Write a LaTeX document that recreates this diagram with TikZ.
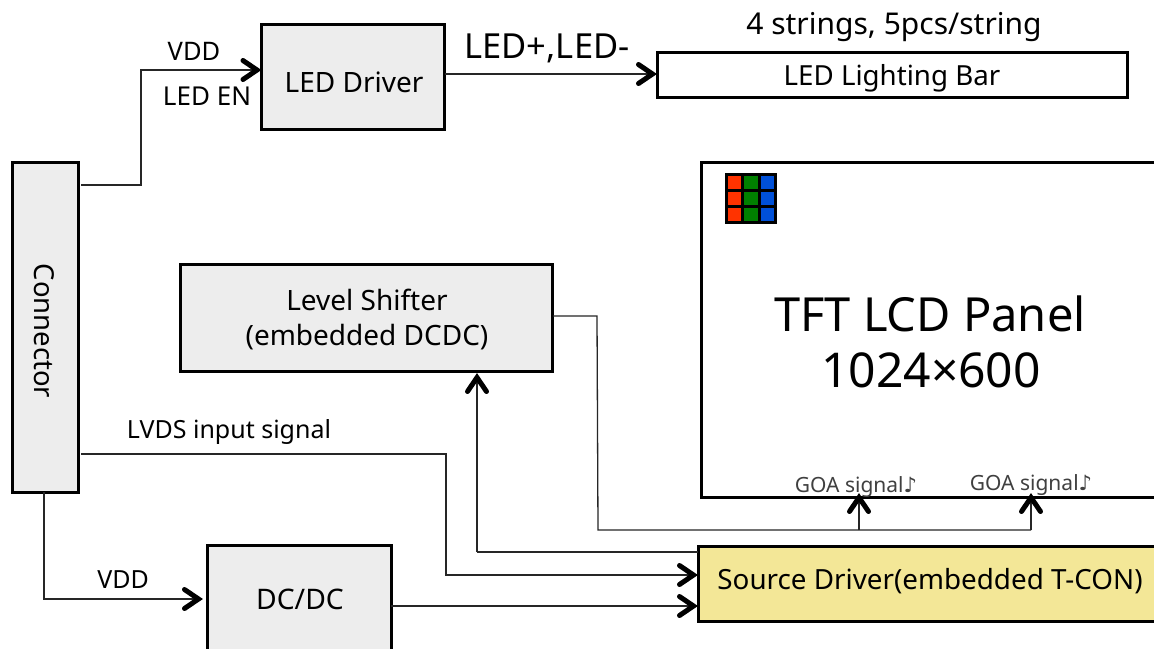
\documentclass[tikz,border=0pt]{standalone}
\usepackage{fontspec}
\setmainfont{Noto Sans}
\newfontfamily\symfont{DejaVu Sans}
\usetikzlibrary{arrows.meta}
\definecolor{boxgrey}{HTML}{EDEDED}
\definecolor{srcyellow}{HTML}{F3E797}
\definecolor{cellred}{HTML}{FF3300}
\definecolor{cellgreen}{HTML}{008000}
\definecolor{cellblue}{HTML}{0050D8}
\pgfdeclarearrow{
  name=FatBarb,
  setup code={
    \pgfarrowssettipend{0pt}
    \pgfarrowssetlineend{-5pt}
    \pgfarrowssetvisualbackend{-18.5pt}
    \pgfarrowssetbackend{-18.5pt}
  },
  drawing code={
    \pgfsetlinewidth{5pt}
    \pgfsetdash{}{0pt}
    \pgfsetroundcap
    \pgfsetmiterjoin
    \pgfpathmoveto{\pgfqpoint{-18.5pt}{9.5pt}}
    \pgfpathlineto{\pgfqpoint{-4.5pt}{0pt}}
    \pgfpathlineto{\pgfqpoint{-18.5pt}{-9.5pt}}
    \pgfusepathqstroke
  }
}
\tikzset{
  blockbox/.style={draw=black,line width=3pt,fill=boxgrey,inner sep=0pt,outer sep=0pt},
  wire/.style={draw=black!85,line width=1.3pt},
  arrowwire/.style={wire,-{FatBarb[black]}},
  lbl/.style={inner sep=0pt,outer sep=0pt,text=black,align=center},
  goa/.style={inner sep=0pt,outer sep=0pt,text=black!75,font=\fontsize{21}{23}\selectfont},
}
\begin{document}
\begin{tikzpicture}[x=1pt,y=-1pt]
\useasboundingbox (0,0) rectangle (1154,648);
\clip (0,0) rectangle (1154,648);
\fill[white] (0,0) rectangle (1154,648);
% blocks
\node[blockbox,minimum width=66pt,minimum height=330pt] (conn) at (45,327) {};
\node[blockbox,minimum width=183pt,minimum height=105pt] (drv) at (353,76.5) {};
\node[blockbox,fill=white,minimum width=470pt,minimum height=45pt] (bar) at (892,74.5) {};
\node[blockbox,fill=white,minimum width=463pt,minimum height=335pt] (panel) at (932.5,329.5) {};
\node[blockbox,minimum width=372pt,minimum height=107pt] (shift) at (366.5,317.5) {};
\node[blockbox,minimum width=184pt,minimum height=114pt] (dcdc) at (299,602.5) {};
\node[blockbox,fill=srcyellow,minimum width=466pt,minimum height=75pt] (src) at (931,583.5) {};
% pixel icon
\foreach \r in {0,1,2}{
  \fill[cellred]   (725,173+\r*17) rectangle +(17,17);
  \fill[cellgreen] (742,173+\r*17) rectangle +(17,17);
  \fill[cellblue]  (759,173+\r*17) rectangle +(17,17);
}
\draw[black,line width=3pt] (726,174.5) rectangle (775,222);
\foreach \k in {1,2}{
  \draw[black,line width=3pt] (726+\k*16.5,174.5) -- (726+\k*16.5,222);
  \draw[black,line width=3pt] (726,174.5+\k*16) -- (775,174.5+\k*16);
}
% free ends
\coordinate (c1) at (81,185);
\coordinate (c2) at (81,454);
\coordinate (c3) at (44,492);
\coordinate (s1) at (553,316);
\coordinate (j1) at (859,530);
\coordinate (j2) at (1031,530);
\coordinate (g1) at (859,493);
\coordinate (g2) at (1031,493);
% connectors
\draw[arrowwire] (c1) -- (141,185) -- (141,70) -- (drv.west |- 0,70);
\draw[arrowwire] (drv.east |- 0,74) -- (bar.west |- 0,74);
\draw[wire] (s1) -- (597,316) -- (598,530) -- (j2);
\draw[arrowwire] (j1) -- (g1);
\draw[arrowwire] (j2) -- (g2);
\draw[wire] (src.west |- 0,552) -- (477,552);
\draw[arrowwire] (477,552) -- (477,373);
\draw[arrowwire] (c2) -- (446,454) -- (446,575) -- (src.west |- 0,575);
\draw[arrowwire] (dcdc.east |- 0,606) -- (src.west |- 0,606);
\draw[arrowwire] (c3) -- (44,599) -- (203,599);
% labels
\node[lbl,font=\fontsize{25.5}{28}\selectfont] (t1) at (194,51) {VDD};
\node[lbl,font=\fontsize{26}{28}\selectfont] (t2) at (207,96) {LED EN};
\node[lbl,font=\fontsize{28}{30}\selectfont] (t3) at (354,82) {LED Driver};
\node[lbl,font=\fontsize{34.5}{36}\selectfont] (t4) at (547,48) {LED+,LED-};
\node[lbl,font=\fontsize{30}{32}\selectfont] (t5) at (894,27) {4 strings, 5pcs/string};
\node[lbl,font=\fontsize{27.7}{30}\selectfont] (t6) at (892,78) {LED Lighting Bar};
\node[lbl,font=\fontsize{27.5}{30}\selectfont,rotate=-90] (t7) at (44,331) {Connector};
\node[lbl,font=\fontsize{28}{30}\selectfont] (t8) at (367,300) {Level Shifter};
\node[lbl,font=\fontsize{28}{30}\selectfont] (t9) at (367,337) {(embedded DCDC)};
\node[lbl,font=\fontsize{47}{50}\selectfont] (t10) at (930,314) {TFT LCD Panel};
\node[lbl,font=\fontsize{48}{50}\selectfont] (t11) at (931,370) {1024×600};
\node[lbl,font=\fontsize{25}{27}\selectfont] (t12) at (229,432) {LVDS input signal};
\node[lbl,font=\fontsize{25}{27}\selectfont] (t13) at (123,580) {VDD};
\node[lbl,font=\fontsize{28.3}{30}\selectfont] (t14) at (300,599) {DC/DC};
\node[lbl,font=\fontsize{27.8}{30}\selectfont] (t15) at (930,581) {Source Driver(embedded T-CON)};
\node[goa] (g3) at (856,487) {GOA signal{\symfont ♪}};
\node[goa] (g4) at (1031,485) {GOA signal{\symfont ♪}};
\end{tikzpicture}
\end{document}
